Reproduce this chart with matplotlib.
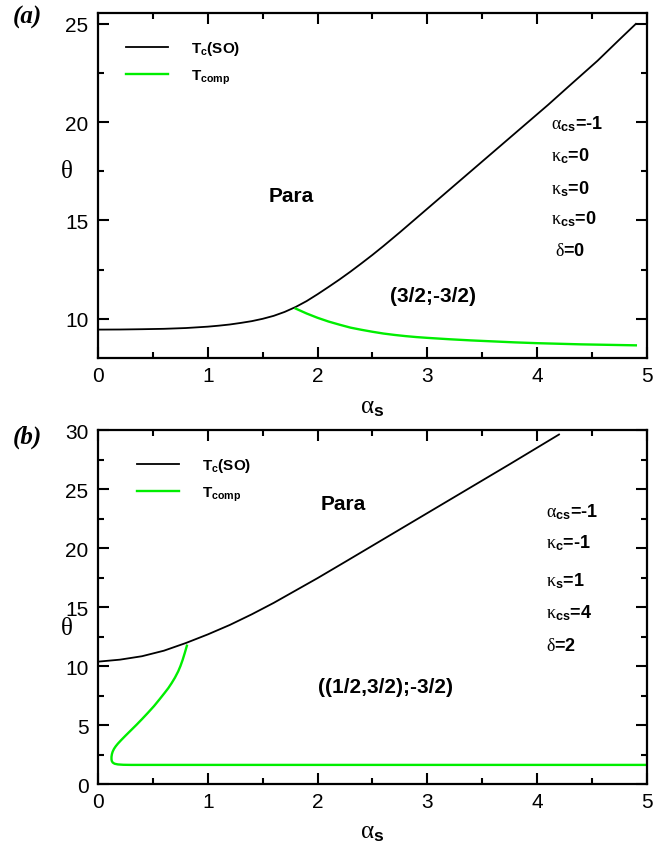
import matplotlib
matplotlib.use("Agg")
import matplotlib.pyplot as plt
from matplotlib.ticker import MultipleLocator

plt.rcParams["font.family"] = ["Liberation Sans", "DejaVu Sans"]
plt.rcParams["mathtext.fontset"] = "custom"
plt.rcParams["mathtext.rm"] = "Liberation Serif"
plt.rcParams["mathtext.it"] = "Liberation Serif:italic"
plt.rcParams["mathtext.bf"] = "Liberation Sans:bold"
plt.rcParams["mathtext.sf"] = "Liberation Sans"

# panel (a): alpha_cs=-1, kappa_c=kappa_s=kappa_cs=0, delta=0
a_tc_x = [0, 0.2, 0.4, 0.6, 0.8, 1.0, 1.1, 1.2, 1.3, 1.4, 1.5, 1.6, 1.7, 1.8, 1.9, 2.0, 2.1, 2.2,
          2.3, 2.4, 2.5, 2.6, 2.75, 3.0, 3.2, 3.4, 3.65, 3.9, 4.1, 4.3, 4.55, 4.75, 4.9]
a_tc_y = [9.45, 9.455, 9.47, 9.49, 9.53, 9.6, 9.65, 9.71, 9.79, 9.88, 10.0, 10.15, 10.35, 10.6, 10.9,
          11.25, 11.62, 12.0, 12.4, 12.82, 13.25, 13.7, 14.4, 15.6, 16.56, 17.52, 18.72, 19.92,
          20.88, 21.88, 23.12, 24.2, 25.0]
a_comp_x = [1.8, 1.9, 2.0, 2.1, 2.2, 2.3, 2.4, 2.5, 2.6, 2.7, 2.8, 2.9, 3.0, 3.2, 3.4, 3.6, 3.8,
            4.0, 4.2, 4.4, 4.6, 4.9]
a_comp_y = [10.52, 10.27, 10.05, 9.86, 9.7, 9.55, 9.44, 9.34, 9.25, 9.18, 9.12, 9.07, 9.03, 8.96,
            8.9, 8.85, 8.8, 8.76, 8.73, 8.7, 8.68, 8.65]

# panel (b): alpha_cs=-1, kappa_c=-1, kappa_s=1, kappa_cs=4, delta=2
b_tc_x = [0, 0.2, 0.4, 0.6, 0.8, 1.0, 1.2, 1.4, 1.6, 1.8, 2.0, 2.25, 2.5, 2.75, 3.0, 3.25, 3.5,
          3.75, 4.0, 4.2]
b_tc_y = [10.37, 10.54, 10.83, 11.3, 11.95, 12.68, 13.48, 14.38, 15.35, 16.4, 17.45, 18.82, 20.2,
          21.58, 22.96, 24.34, 25.72, 27.1, 28.5, 29.62]
b_comp_x = [0.809, 0.79, 0.77, 0.75, 0.73, 0.7, 0.67, 0.64, 0.606, 0.56, 0.51, 0.4545, 0.4, 0.35,
            0.3, 0.25, 0.21, 0.18, 0.16, 0.145, 0.133, 0.126, 0.122, 0.122, 0.125, 0.133, 0.15,
            0.18, 0.23, 0.3, 0.45, 1.0, 2.0, 3.0, 4.0, 5.0]
b_comp_y = [11.72, 11.11, 10.51, 9.99, 9.55, 9.01, 8.55, 8.13, 7.72, 7.18, 6.61, 6.04, 5.5, 5.02,
            4.56, 4.1, 3.72, 3.42, 3.19, 2.98, 2.75, 2.54, 2.3, 2.1, 1.95, 1.82, 1.72, 1.66, 1.63,
            1.62, 1.62, 1.62, 1.62, 1.62, 1.62, 1.62]

leg_labels = [r"$\mathbf{T_{c}(SO)}$", r"$\mathbf{T_{comp}}$"]
a_params = [r"$\mathrm{\alpha}_{\mathbf{cs}}$=-1", r"$\mathrm{\kappa}_{\mathbf{c}}$=0",
            r"$\mathrm{\kappa}_{\mathbf{s}}$=0", r"$\mathrm{\kappa}_{\mathbf{cs}}$=0",
            r"$\mathrm{\delta}$=0"]
a_param_y = [19.93, 18.33, 16.64, 15.12, 13.45]
b_params = [r"$\mathrm{\alpha}_{\mathbf{cs}}$=-1", r"$\mathrm{\kappa}_{\mathbf{c}}$=-1",
            r"$\mathrm{\kappa}_{\mathbf{s}}$=1", r"$\mathrm{\kappa}_{\mathbf{cs}}$=4",
            r"$\mathrm{\delta}$=2"]
b_param_y = [23.16, 20.48, 17.3, 14.58, 11.72]

GREEN = "#00ee00"

fig = plt.figure(figsize=(6.54, 8.53), dpi=100)
ax1 = fig.add_axes([0.150, 0.579, 0.839, 0.4045])
ax2 = fig.add_axes([0.150, 0.0797, 0.839, 0.415])


def style(ax, ymaj):
    ax.xaxis.set_major_locator(MultipleLocator(1))
    ax.xaxis.set_minor_locator(MultipleLocator(0.5))
    ax.yaxis.set_major_locator(MultipleLocator(ymaj))
    ax.yaxis.set_minor_locator(MultipleLocator(ymaj / 2))
    ax.tick_params(which="both", direction="in", top=True, right=True, width=1.5, labelsize=15)
    ax.tick_params(which="major", length=8)
    ax.tick_params(which="minor", length=4.5)
    ax.tick_params(axis="x", pad=6)
    ax.tick_params(axis="y", pad=7)
    for sp in ax.spines.values():
        sp.set_linewidth(1.6)
    ax.set_xlim(0, 5)


def panel(ax, tc_x, tc_y, comp_x, comp_y, params, px, py):
    ax.plot(tc_x, tc_y, color="black", lw=1.3, label=leg_labels[0])
    ax.plot(comp_x, comp_y, color=GREEN, lw=1.7, label=leg_labels[1])
    style(ax, 5)
    for i, (s, y) in enumerate(zip(params, py)):
        ax.text(px[i], y, s, fontsize=13, fontweight="bold", ha="left", va="center")
    ax.set_xlabel(r"$\mathrm{\alpha}_{\mathbf{s}}$", fontsize=18)
    ax.set_ylabel(r"$\mathrm{\theta}$", fontsize=18, rotation=0)


# (a)
panel(ax1, a_tc_x, a_tc_y, a_comp_x, a_comp_y, a_params, [4.127] * 4 + [4.16], a_param_y)
ax1.set_ylim(8, 25.55)
ax1.text(1.76, 16.28, "Para", fontsize=15, fontweight="bold", ha="center", va="center")
ax1.text(3.05, 11.2, "(3/2;-3/2)", fontsize=15, fontweight="bold", ha="center", va="center")
ax1.legend(loc="upper left", bbox_to_anchor=(0.025, 0.965), frameon=False, fontsize=11,
           handlelength=2.8, handletextpad=1.5, labelspacing=0.7)
ax1.xaxis.set_label_coords(0.5, -0.105)
ax1.yaxis.set_label_coords(-0.058, 0.51)

# (b)
panel(ax2, b_tc_x, b_tc_y, b_comp_x, b_comp_y, b_params, [4.08] * 5, b_param_y)
ax2.set_ylim(0, 30)
ax2.text(2.23, 23.8, "Para", fontsize=15, fontweight="bold", ha="center", va="center")
ax2.text(2.62, 8.3, "((1/2,3/2);-3/2)", fontsize=15, fontweight="bold", ha="center", va="center")
ax2.legend(loc="upper left", bbox_to_anchor=(0.045, 0.965), frameon=False, fontsize=11,
           handlelength=2.8, handletextpad=1.5, labelspacing=0.7)
ax2.xaxis.set_label_coords(0.5, -0.1)
ax2.yaxis.set_label_coords(-0.058, 0.41)

fig.text(13 / 654, 1 - 17 / 853, "(a)", fontsize=18, fontweight="bold", fontstyle="italic",
         family="Liberation Serif", ha="left", va="center")
fig.text(13 / 654, 1 - 437 / 853, "(b)", fontsize=18, fontweight="bold", fontstyle="italic",
         family="Liberation Serif", ha="left", va="center")

fig.savefig("out.png", dpi=100)
